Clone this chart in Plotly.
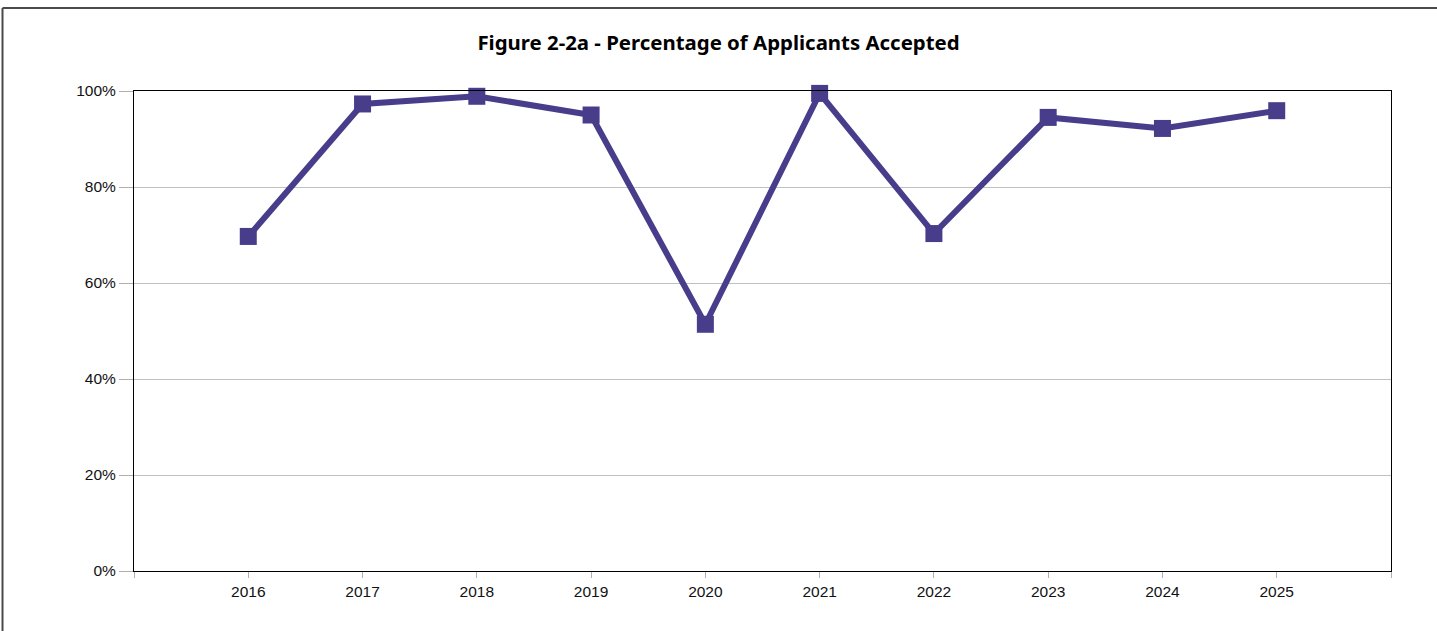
import plotly.graph_objects as go

# Applicant acceptance rate by year (percent)
years = [2016, 2017, 2018, 2019, 2020, 2021, 2022, 2023, 2024, 2025]
accepted_pct = [69.7, 97.3, 98.9, 95.0, 51.4, 99.5, 70.3, 94.5, 92.2, 95.9]

# Axis ticks: one tick slot either side of the data, labels only on data years
x_tick_vals = [2015] + years + [2026]
x_tick_text = [""] + [str(y) for y in years] + [""]
y_tick_vals = [0, 20, 40, 60, 80, 100]
y_tick_text = [f"{v}%" for v in y_tick_vals]

LINE_COLOR = "#483D8B"
W, H = 1437, 631
L, R, T, B = 134, 46, 91, 60

fig = go.Figure(
    go.Scatter(
        x=years,
        y=accepted_pct,
        mode="lines+markers",
        line=dict(color=LINE_COLOR, width=6),
        marker=dict(symbol="square", size=17, color=LINE_COLOR),
        hovertemplate="%{x}: %{y:.1f}%<extra></extra>",
        cliponaxis=False,
    )
)

# Outer frame: top and left edges only
pw, ph = W - L - R, H - T - B
fx = (2.5 - L) / pw
fy = (H - B - 8) / ph
frame = dict(color="#4a4a4a", width=2)
fig.add_shape(type="line", xref="paper", yref="paper", x0=fx, x1=1.2, y0=fy, y1=fy, line=frame)
fig.add_shape(type="line", xref="paper", yref="paper", x0=fx, x1=fx, y0=fy, y1=-0.3, line=frame)

fig.update_layout(
    width=W,
    height=H,
    margin=dict(l=L, r=R, t=T, b=B, pad=0),
    paper_bgcolor="white",
    plot_bgcolor="white",
    showlegend=False,
    title=dict(
        text="<b>Figure 2-2a - Percentage of Applicants Accepted</b>",
        x=0.5,
        xref="container",
        xanchor="center",
        y=1 - 43 / H,
        yref="container",
        yanchor="middle",
        font=dict(family="Noto Sans, Open Sans, sans-serif", size=20.4, color="#000000"),
    ),
    font=dict(family="Liberation Sans, Arial, sans-serif", size=15.5, color="#111111"),
)

fig.update_xaxes(
    range=[2015, 2026],
    tickmode="array",
    tickvals=x_tick_vals,
    ticktext=x_tick_text,
    ticks="outside",
    ticklen=6,
    tickwidth=1,
    tickcolor="#b0b0b0",
    showgrid=False,
    zeroline=False,
    showline=True,
    linecolor="#000000",
    linewidth=1,
    mirror=True,
    tickfont=dict(size=15.5, color="#111111"),
)

fig.update_yaxes(
    range=[0, 100],
    tickmode="array",
    tickvals=y_tick_vals,
    ticktext=y_tick_text,
    ticks="outside",
    ticklen=14,
    tickwidth=1,
    tickcolor="#b0b0b0",
    showgrid=True,
    gridcolor="#c0c0c0",
    gridwidth=1,
    zeroline=False,
    showline=True,
    linecolor="#000000",
    linewidth=1,
    mirror=True,
    tickfont=dict(size=15.5, color="#111111"),
)

fig.write_html("out.html")
